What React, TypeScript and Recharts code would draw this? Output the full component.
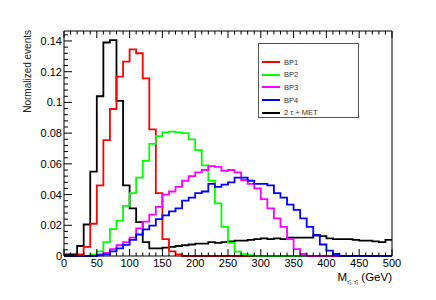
import React from 'react'
import { LineChart, Line, XAxis, YAxis, Legend } from 'recharts'

// bin low edges (GeV), 10 GeV bins
const binLow = [
  0, 10, 20, 30, 40, 50, 60, 70, 80, 90,
  100, 110, 120, 130, 140, 150, 160, 170, 180, 190,
  200, 210, 220, 230, 240, 250, 260, 270, 280, 290,
  300, 310, 320, 330, 340, 350, 360, 370, 380, 390,
  400, 410, 420, 430, 440, 450, 460, 470, 480, 490,
]

const bp1 = [
  0, 0, 0.001, 0.006, 0.021, 0.046, 0.0755, 0.0957, 0.1168, 0.1265,
  0.1345, 0.132, 0.1157, 0.0825, 0.041, 0.011, 0.003, 0.001, 0, 0,
  0, 0, 0, 0, 0, 0, 0, 0, 0, 0,
  0, 0, 0, 0, 0, 0, 0, 0, 0, 0,
  0, 0, 0, 0, 0, 0, 0, 0, 0, 0,
]

const bp2 = [
  0, 0, 0, 0, 0.001, 0.003, 0.009, 0.0175, 0.023, 0.0326,
  0.041, 0.051, 0.062, 0.073, 0.078, 0.0805, 0.081, 0.0805, 0.08, 0.076,
  0.069, 0.059, 0.049, 0.0343, 0.019, 0.0085, 0.0028, 0.0012, 0.0005, 0,
  0, 0, 0, 0, 0, 0, 0, 0, 0, 0,
  0, 0, 0, 0, 0, 0, 0, 0, 0, 0,
]

const bp3 = [
  0, 0, 0, 0, 0, 0.001, 0.002, 0.0045, 0.007, 0.009,
  0.012, 0.018, 0.0224, 0.027, 0.032, 0.04, 0.042, 0.045, 0.049, 0.052,
  0.0545, 0.056, 0.0585, 0.058, 0.0555, 0.056, 0.0545, 0.0495, 0.047, 0.044,
  0.037, 0.031, 0.0245, 0.019, 0.011, 0.0045, 0.0013, 0, 0, 0,
  0, 0, 0, 0, 0, 0, 0, 0, 0, 0,
]

const bp4 = [
  0, 0, 0, 0, 0, 0.0005, 0.001, 0.003, 0.005, 0.0072,
  0.0105, 0.014, 0.0174, 0.0198, 0.024, 0.0265, 0.029, 0.031, 0.036, 0.038,
  0.041, 0.042, 0.047, 0.045, 0.0465, 0.048, 0.051, 0.051, 0.049, 0.047,
  0.047, 0.046, 0.041, 0.038, 0.0335, 0.03, 0.0245, 0.019, 0.0135, 0.0075,
  0.0035, 0.0013, 0, 0, 0, 0, 0, 0, 0, 0,
]

const bkg = [
  0.001, 0.001, 0.0065, 0.0205, 0.055, 0.104, 0.139, 0.1405, 0.101, 0.046,
  0.031, 0.022, 0.009, 0.005, 0.005, 0.0055, 0.006, 0.0065, 0.007, 0.0075,
  0.008, 0.008, 0.009, 0.0085, 0.009, 0.0095, 0.01, 0.01, 0.0105, 0.011,
  0.0115, 0.011, 0.0115, 0.011, 0.012, 0.012, 0.012, 0.012, 0.0135, 0.013,
  0.0115, 0.011, 0.011, 0.011, 0.0105, 0.01, 0.01, 0.0095, 0.009, 0.0105,
]

const xMajor = [0, 50, 100, 150, 200, 250, 300, 350, 400, 450, 500]
const yMajor = [0, 0.02, 0.04, 0.06, 0.08, 0.1, 0.12, 0.14]

const series = [
  { key: 'bkg', name: '2 τ + MET', color: '#000000' },
  { key: 'bp1', name: 'BP1', color: '#ff0000' },
  { key: 'bp2', name: 'BP2', color: '#00ff00' },
  { key: 'bp3', name: 'BP3', color: '#ff00ff' },
  { key: 'bp4', name: 'BP4', color: '#0000ff' },
]
const legendOrder = ['bp1', 'bp2', 'bp3', 'bp4', 'bkg']

const rows = binLow.map((x, i) => ({ x, bp1: bp1[i], bp2: bp2[i], bp3: bp3[i], bp4: bp4[i], bkg: bkg[i] }))
// close the last bin at 500
const last = rows[rows.length - 1]
rows.push({ ...last, x: 500 })

const xTicks = Array.from({ length: 51 }, (_, i) => i * 10)
const yTicks = Array.from({ length: 37 }, (_, i) => +(i * 0.004).toFixed(3))

const FONT = "'Liberation Sans', Arial, Helvetica, sans-serif"

const isXMajor = (v: number) => xMajor.includes(v)
const isYMajor = (v: number) => yMajor.some((m) => Math.abs(m - v) < 1e-6)

function BottomTick(props: any) {
  const { x, y, payload } = props
  const major = isXMajor(payload.value)
  return (
    <g>
      <line x1={x} x2={x} y1={y} y2={y - (major ? 7 : 3.5)} stroke="#000" strokeWidth={1} />
      {major && (
        <text x={x} y={y + 11} textAnchor="middle" fontSize={11} fontFamily={FONT} fill="#000">
          {payload.value}
        </text>
      )}
    </g>
  )
}

function TopTick(props: any) {
  const { x, y, payload } = props
  const major = isXMajor(payload.value)
  return <line x1={x} x2={x} y1={y} y2={y + (major ? 7 : 3.5)} stroke="#000" strokeWidth={1} />
}

function LeftTick(props: any) {
  const { x, y, payload } = props
  const major = isYMajor(payload.value)
  return (
    <g>
      <line x1={x} x2={x + (major ? 8 : 4)} y1={y} y2={y} stroke="#000" strokeWidth={1} />
      {major && (
        <text x={x - 2} y={y} dy={4} textAnchor="end" fontSize={11} fontFamily={FONT} fill="#000">
          {String(+payload.value.toFixed(3))}
        </text>
      )}
    </g>
  )
}

function RightTick(props: any) {
  const { x, y, payload } = props
  const major = isYMajor(payload.value)
  return <line x1={x} x2={x - (major ? 8 : 4)} y1={y} y2={y} stroke="#000" strokeWidth={1} />
}

function LegendBox() {
  return (
    <div
      style={{
        width: 101,
        height: 75,
        boxSizing: 'border-box',
        border: '1px solid #555',
        background: '#fff',
        position: 'relative',
        fontFamily: FONT,
      }}
    >
      {legendOrder.map((k, i) => {
        const s = series.find((d) => d.key === k)!
        return (
          <div key={k} style={{ position: 'absolute', left: 3, top: 13 + i * 12.7, height: 10, display: 'flex', alignItems: 'center' }}>
            <div style={{ width: 18, height: 0, borderTop: `2px solid ${s.color}` }} />
            <span style={{ marginLeft: 4, fontSize: 7.5, color: '#333', whiteSpace: 'nowrap' }}>{s.name}</span>
          </div>
        )
      })}
    </div>
  )
}

export default function App() {
  return (
    <div style={{ position: 'fixed', left: 0, top: 0, width: 436, height: 300, background: '#fff' }}>
      <LineChart width={436} height={300} data={rows} margin={{ top: 30, right: 43, bottom: 24, left: 34 }}>
        <XAxis
          xAxisId="b"
          dataKey="x"
          type="number"
          domain={[0, 500]}
          ticks={xTicks}
          interval={0}
          height={20}
          tickSize={0}
          tickMargin={0}
          tick={<BottomTick />}
          tickLine={false}
          axisLine={{ stroke: '#000' }}
        />
        <XAxis
          xAxisId="t"
          orientation="top"
          dataKey="x"
          type="number"
          domain={[0, 500]}
          ticks={xTicks}
          interval={0}
          height={1}
          tickSize={0}
          tickMargin={0}
          tick={<TopTick />}
          tickLine={false}
          axisLine={{ stroke: '#000' }}
        />
        <YAxis
          yAxisId="l"
          type="number"
          domain={[0, 0.1465]}
          ticks={yTicks}
          interval={0}
          width={30}
          tickSize={0}
          tickMargin={0}
          tick={<LeftTick />}
          tickLine={false}
          axisLine={{ stroke: '#000' }}
        />
        <YAxis
          yAxisId="r"
          orientation="right"
          type="number"
          domain={[0, 0.1465]}
          ticks={yTicks}
          interval={0}
          width={1}
          tickSize={0}
          tickMargin={0}
          tick={<RightTick />}
          tickLine={false}
          axisLine={{ stroke: '#000' }}
        />
        {series.map((s) => (
          <Line
            key={s.key}
            xAxisId="b"
            yAxisId="l"
            type="stepAfter"
            dataKey={s.key}
            name={s.name}
            stroke={s.color}
            strokeWidth={1.8}
            dot={false}
            activeDot={false}
            isAnimationActive={false}
          />
        ))}
        <Legend
          layout="vertical"
          align="center"
          verticalAlign="middle"
          wrapperStyle={{ position: 'absolute', left: 258, top: 43, width: 101, height: 75 }}
          content={() => <LegendBox />}
        />
      </LineChart>
      <svg width={436} height={300} style={{ position: 'absolute', left: 0, top: 0, pointerEvents: 'none' }}>
        <text
          x={27}
          y={30}
          transform="rotate(-90 27 30)"
          textAnchor="end"
          dy={3.5}
          fontSize={10}
          fontFamily={FONT}
          fill="#222"
        >
          Normalized events
        </text>
        <text x={392} y={281} textAnchor="end" fontSize={11.5} fontFamily={FONT} fill="#000">
          M
          <tspan fontSize={5.5} dy={3}>{'τ̃₁, τ̃₁'}</tspan>
          <tspan dy={-3}>{' (GeV)'}</tspan>
        </text>
      </svg>
    </div>
  )
}
